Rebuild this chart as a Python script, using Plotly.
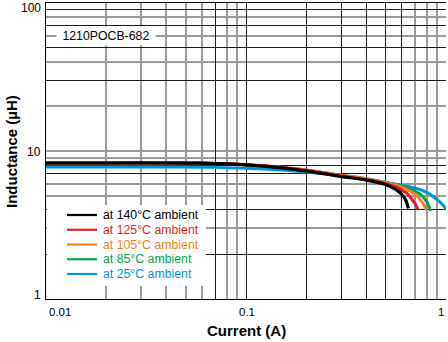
import numpy as np
import plotly.graph_objects as go

# ---------------- data ----------------
i_140 = [0.01, 0.02, 0.04, 0.06, 0.08, 0.1, 0.15, 0.2, 0.3, 0.4, 0.5, 0.56, 0.6, 0.63, 0.648]
l_140 = [8.3, 8.3, 8.3, 8.27, 8.18, 8.05, 7.7, 7.33, 6.72, 6.36, 5.93, 5.5, 5.1, 4.65, 4.1]

i_125 = [0.01, 0.02, 0.04, 0.06, 0.08, 0.1, 0.15, 0.2, 0.3, 0.4, 0.5, 0.56, 0.6, 0.64, 0.68, 0.705, 0.722]
l_125 = [8.3, 8.3, 8.3, 8.28, 8.2, 8.08, 7.75, 7.4, 6.8, 6.42, 6.02, 5.72, 5.45, 5.15, 4.66, 4.35, 4.04]

i_105 = [0.01, 0.02, 0.04, 0.06, 0.08, 0.1, 0.15, 0.2, 0.3, 0.4, 0.5, 0.6, 0.68, 0.73, 0.76, 0.785, 0.8]
l_105 = [8.32, 8.32, 8.32, 8.3, 8.22, 8.1, 7.78, 7.45, 6.85, 6.48, 6.1, 5.7, 5.25, 4.85, 4.5, 4.2, 3.99]

i_85 = [0.01, 0.02, 0.04, 0.06, 0.08, 0.1, 0.15, 0.2, 0.3, 0.4, 0.5, 0.6, 0.7, 0.75, 0.8, 0.82, 0.838]
l_85 = [8.28, 8.28, 8.28, 8.26, 8.18, 8.06, 7.75, 7.43, 6.86, 6.5, 6.12, 5.78, 5.35, 5.05, 4.55, 4.25, 3.93]

i_25 = [0.01, 0.02, 0.04, 0.06, 0.08, 0.1, 0.15, 0.2, 0.3, 0.4, 0.5, 0.6, 0.7, 0.8, 0.86, 0.92, 0.96, 1.0]
l_25 = [7.8, 7.8, 7.8, 7.78, 7.72, 7.65, 7.45, 7.22, 6.8, 6.45, 6.15, 5.88, 5.62, 5.25, 4.95, 4.6, 4.35, 4.05]

series_names = ["at 140°C ambient", "at 125°C ambient", "at 105°C ambient",
                "at 85°C ambient", "at 25°C ambient"]
series_colors = ["#000000", "#ED1C24", "#F58220", "#00A651", "#0095DA"]
series_i = [i_140, i_125, i_105, i_85, i_25]
series_l = [l_140, l_125, l_105, l_85, l_25]

x_tick_vals = [0.01, 0.1, 1]
x_tick_text = ["0.01", "0.1", "1"]
y_tick_vals = [1, 10, 100]
y_tick_text = ["1", "10", "100"]

x_grid_dark = [0.07, 0.1, 0.2, 0.3, 0.4, 0.5, 0.6]
x_grid_light = [0.02, 0.03, 0.04, 0.05, 0.06, 0.08, 0.09, 0.7, 0.8, 0.9, 1.0]
y_grid_dark = [2, 4, 7, 8, 30, 50, 70, 90]
y_grid_light = [3, 5, 6, 9, 10, 20, 40, 60, 80]

part_number = "1210POCB-682"
x_title = "Current (A)"
y_title = "Inductance (µH)"

# ---------------- layout geometry (pixels) ----------------
W, H = 448, 342
L, R, T, B = 46, 446, 3, 299
FONT = "Liberation Sans, Arial, Helvetica, sans-serif"


def px_x(px):
    return (px - L) / (R - L)


def px_y(py):
    return (B - py) / (B - T)


fig = go.Figure()

# draw in reverse so black is on top
for name, col, xs, ys in reversed(list(zip(series_names, series_colors, series_i, series_l))):
    fig.add_trace(go.Scatter(
        x=xs, y=ys, mode="lines", name=name,
        line=dict(color=col, width=3.2 if col == "#000000" else 3, shape="spline", smoothing=0.6),
        showlegend=False, hoverinfo="skip",
    ))

fig.update_layout(
    width=W, height=H,
    margin=dict(l=L, r=W - R, t=T, b=H - B),
    paper_bgcolor="white", plot_bgcolor="white",
    font=dict(family=FONT, size=12, color="black"),
    showlegend=False,
)

fig.update_xaxes(
    type="log", range=[-2, 0],
    tickmode="array", tickvals=x_grid_dark, showticklabels=False, ticks="",
    showgrid=True, gridcolor="#1a1a1a", gridwidth=1,
    minor=dict(tickmode="array", tickvals=x_grid_light, showgrid=True,
               gridcolor="#9a9a9a", gridwidth=2, ticks=""),
    showline=True, linecolor="black", linewidth=1, mirror=True,
    zeroline=False,
)
fig.update_yaxes(
    type="log", range=[0, 2],
    tickmode="array", tickvals=y_grid_dark, showticklabels=False, ticks="",
    showgrid=True, gridcolor="#1a1a1a", gridwidth=1,
    minor=dict(tickmode="array", tickvals=y_grid_light, showgrid=True,
               gridcolor="#9a9a9a", gridwidth=2, ticks=""),
    showline=True, linecolor="black", linewidth=1, mirror=False,
    zeroline=False,
)

annotations = []
shapes = []

# tick labels
x_anchor = ["left", "center", "right"]
x_shift = [1, 1, 0]
for v, t, a, s in zip(x_tick_vals, x_tick_text, x_anchor, x_shift):
    annotations.append(dict(x=np.log10(v), y=0, xref="x", yref="paper", text=t,
                            showarrow=False, xanchor=a, yanchor="middle",
                            xshift=s, yshift=-13, font=dict(size=11.5)))
y_anchor = ["middle", "middle", "top"]
y_shift = [4, -1, 3]
for v, t, a, s in zip(y_tick_vals, y_tick_text, y_anchor, y_shift):
    annotations.append(dict(x=0, y=np.log10(v), xref="paper", yref="y", text=t,
                            showarrow=False, xanchor="right", yanchor=a, borderpad=0,
                            xshift=-4, yshift=s, font=dict(size=12)))

# axis titles
annotations.append(dict(x=px_x(246), y=px_y(330), xref="paper", yref="paper",
                        text="<b>%s</b>" % x_title, showarrow=False,
                        xanchor="center", yanchor="middle", font=dict(size=15)))
annotations.append(dict(x=px_x(11), y=px_y(152), xref="paper", yref="paper",
                        text="<b>%s</b>" % y_title, showarrow=False, textangle=-90,
                        xanchor="center", yanchor="middle", font=dict(size=15)))

# part number label
annotations.append(dict(x=np.log10(0.02), y=np.log10(60), xref="x", yref="y",
                        text="&nbsp;" + part_number + "&nbsp;", showarrow=False,
                        bgcolor="white", borderpad=2,
                        xanchor="center", yanchor="middle", font=dict(size=12.3)))

# legend box (drawn manually to match compact row spacing)
shapes.append(dict(type="rect", xref="paper", yref="paper",
                   x0=px_x(47), x1=px_x(206), y0=px_y(286), y1=px_y(205),
                   fillcolor="white", line=dict(width=0), layer="above"))
for k, (name, col) in enumerate(zip(series_names, series_colors)):
    yy = 215 + 14.75 * k
    shapes.append(dict(type="line", xref="paper", yref="paper",
                       x0=px_x(67), x1=px_x(97), y0=px_y(yy), y1=px_y(yy),
                       line=dict(color=col, width=2.2), layer="above"))
    annotations.append(dict(x=px_x(101), y=px_y(yy), xref="paper", yref="paper",
                            text=name, showarrow=False, xanchor="left", yanchor="middle",
                            font=dict(size=12.3, color=col)))

fig.update_layout(annotations=annotations, shapes=shapes)

fig.write_html("out.html")
